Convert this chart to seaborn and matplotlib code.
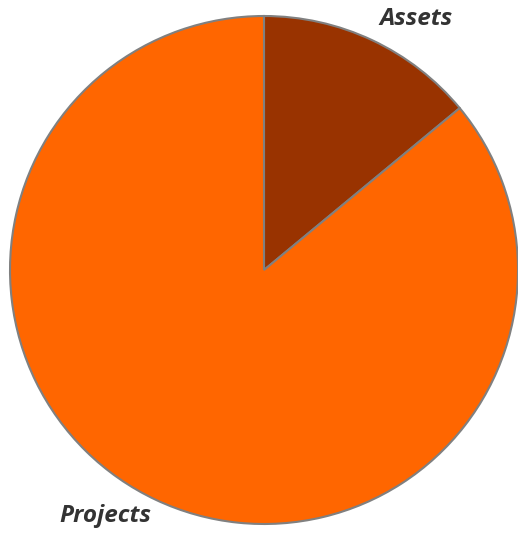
import matplotlib
matplotlib.use("Agg")
import matplotlib.pyplot as plt
import seaborn as sns

# Data
categories = ["Assets", "Projects"]
shares = [14, 86]
colors = ["#993300", "#FF6600"]

sns.set_theme(style="white")
plt.rcParams['font.family'] = ['Open Sans', 'DejaVu Sans']

fig = plt.figure(figsize=(5.18, 5.33), dpi=100)
ax = fig.add_axes([10 / 518, 9 / 533, 508 / 518, 508 / 533])

ax.pie(shares, colors=colors, startangle=90, counterclock=False, radius=1,
       wedgeprops={'edgecolor': '#808080', 'linewidth': 1.5})
ax.set_xlim(-1, 1)
ax.set_ylim(-1, 1)
ax.set_aspect('equal')
ax.axis('off')

# slice labels
label_pos = {"Assets": (0.600, 0.990), "Projects": (-0.626, -0.970)}
for name in categories:
    x, y = label_pos[name]
    ax.text(x, y, name, ha='center', va='center', fontsize=17.5,
            fontweight='bold', fontstyle='italic', color='#333333', clip_on=False)

fig.savefig("out.png", dpi=100)
